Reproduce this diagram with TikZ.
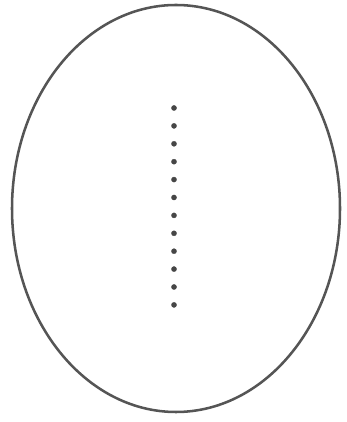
\documentclass[tikz,border=0pt]{standalone}
\usepackage{xcolor}
\usepackage{tikz}
\definecolor{rimgray}{RGB}{85,85,85}
\definecolor{dotgray}{RGB}{70,70,70}

\begin{document}
\begin{tikzpicture}[x=0.05cm,y=0.05cm]
			\useasboundingbox (0,0) rectangle (346,422);
			
			\draw[rimgray, line width=3.6pt] (176,213.5) ellipse (164 and 203.5);
			
			\foreach \k in {0,...,11}
				\filldraw[dotgray] (174,{314-17.9*\k}) circle (2.6);
			
		\end{tikzpicture}
\end{document}
